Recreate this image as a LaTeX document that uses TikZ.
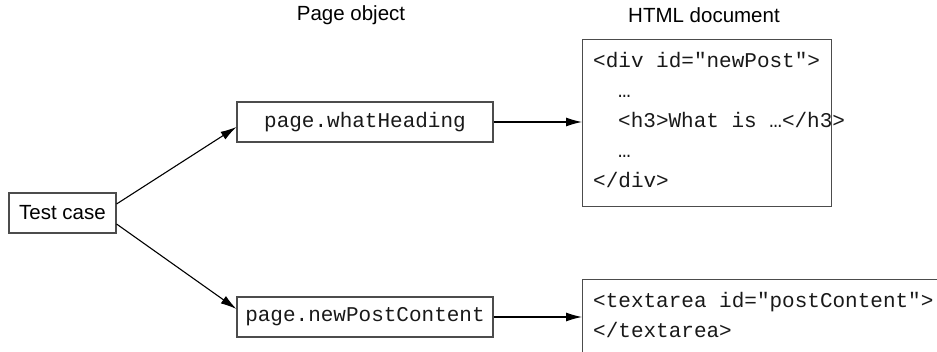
\documentclass[tikz,border=0pt]{standalone}
\usepackage{fontspec}
\setmainfont{Liberation Sans}
\newfontfamily\codefont{Liberation Mono}
\usetikzlibrary{arrows.meta}
\tikzset{
  x=1pt, y=-1pt,
  box/.style={draw=black!70, line width=1.1pt, inner sep=0pt},
  codetxt/.style={font=\codefont\fontsize{21}{21}\selectfont, inner sep=0pt, anchor=base west, text=black!90},
  lbl/.style={font=\fontsize{20.5}{20.5}\selectfont, inner sep=0pt},
  conn/.style={line width=1.1pt, -{Latex[length=16pt,width=9pt]}},
}
\begin{document}
\begin{tikzpicture}
\useasboundingbox (0,0) rectangle (937,351);
% headings
\node[lbl] (h1) at (351,15) {Page object};
\node[lbl] (h2) at (704,15) {HTML document};
% boxes
\node[box, minimum width=107pt, minimum height=40pt, lbl] (tc) at (62.5,213) {Test case};
\node[box, minimum width=256pt, minimum height=40pt, font=\codefont\fontsize{21}{21}\selectfont, text=black!90] (wh) at (365,122) {page.whatHeading};
\node[box, minimum width=256pt, minimum height=40pt, font=\codefont\fontsize{21}{21}\selectfont, text=black!90] (np) at (365,317) {page.newPostContent};
\node[box, anchor=north west, minimum width=249pt, minimum height=167pt] (html) at (582,39) {};
\node[box, anchor=north west, minimum width=400pt, minimum height=120pt] (ta) at (582,279) {};
% code text
\node[codetxt] (c1) at (593,67) {<div id="newPost">};
\node[codetxt] (c2) at (618,97) {…};
\node[codetxt] (c3) at (618,127) {<h3>What is …</h3>};
\node[codetxt] (c4) at (618,157) {…};
\node[codetxt] (c5) at (593,187) {</div>};
\node[codetxt] (t1) at (593,307) {<textarea id="postContent">};
\node[codetxt] (t2) at (593,337) {</textarea>};
% connectors
\draw[conn] ([yshift=9pt]tc.east) -- ([yshift=-5pt]wh.west);
\draw[conn] ([yshift=-11pt]tc.east) -- ([yshift=8pt]np.west);
\draw[conn] (wh.east) -- (wh.east -| html.west);
\draw[conn] (np.east) -- (np.east -| ta.west);
\end{tikzpicture}
\end{document}
